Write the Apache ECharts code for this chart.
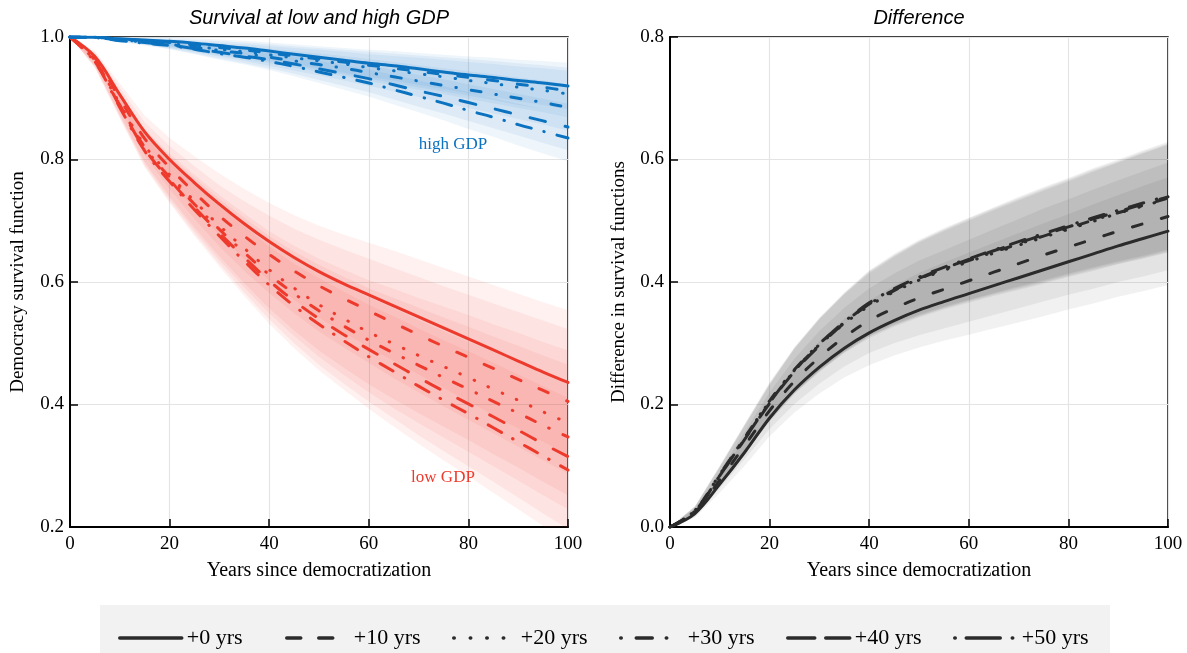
<!DOCTYPE html>
<html><head><meta charset="utf-8">
<script src="https://cdn.jsdelivr.net/npm/echarts@6/dist/echarts.min.js"></script>
<style>html,body{margin:0;padding:0;background:#fff}#c{width:1187px;height:653px}</style>
</head><body><div id="c"></div>
<script>
// ---------- data ----------
const years = [0,5,10,15,20,25,30,35,40,45,50,55,60,65,70,75,80,85,90,95,100];
const legendNames = ['+0 yrs','+10 yrs','+20 yrs','+30 yrs','+40 yrs','+50 yrs'];

// survival at low GDP (red)
const low0  = [1,0.968,0.906,0.845,0.800,0.762,0.727,0.695,0.666,0.640,0.617,0.597,0.579,0.561,0.543,0.525,0.507,0.489,0.471,0.453,0.436];
const low10 = [1,0.966,0.899,0.834,0.787,0.746,0.708,0.675,0.645,0.618,0.594,0.573,0.553,0.533,0.514,0.495,0.477,0.459,0.441,0.423,0.405];
const low20 = [1,0.962,0.891,0.823,0.775,0.732,0.692,0.655,0.620,0.590,0.563,0.540,0.518,0.499,0.480,0.462,0.444,0.425,0.407,0.388,0.370];
const low30 = [1,0.961,0.889,0.820,0.771,0.727,0.686,0.648,0.612,0.581,0.553,0.528,0.505,0.484,0.464,0.444,0.425,0.405,0.386,0.366,0.347];
const low40 = [1,0.960,0.887,0.817,0.767,0.722,0.680,0.640,0.602,0.569,0.540,0.514,0.490,0.467,0.444,0.422,0.401,0.380,0.358,0.336,0.315];
const low50 = [1,0.959,0.885,0.814,0.764,0.718,0.675,0.634,0.595,0.561,0.531,0.504,0.478,0.454,0.430,0.407,0.385,0.362,0.339,0.316,0.293];

// survival at high GDP (blue)
const high0  = [1,0.9995,0.997,0.995,0.993,0.990,0.986,0.982,0.977,0.972,0.967,0.962,0.957,0.953,0.948,0.943,0.938,0.934,0.929,0.925,0.920];
const high10 = [1,0.9995,0.997,0.994,0.991,0.987,0.983,0.979,0.974,0.969,0.964,0.959,0.954,0.949,0.944,0.939,0.934,0.929,0.923,0.918,0.912];
const high20 = [1,0.9995,0.996,0.992,0.989,0.985,0.980,0.976,0.971,0.966,0.961,0.956,0.950,0.945,0.940,0.935,0.929,0.924,0.918,0.913,0.907];
const high30 = [1,0.9995,0.995,0.992,0.988,0.983,0.978,0.973,0.967,0.961,0.955,0.949,0.942,0.935,0.928,0.921,0.914,0.907,0.900,0.893,0.885];
const high40 = [1,0.999,0.995,0.991,0.987,0.981,0.975,0.969,0.963,0.956,0.948,0.940,0.932,0.922,0.912,0.903,0.893,0.883,0.873,0.863,0.853];
const high50 = [1,0.999,0.994,0.990,0.986,0.980,0.973,0.967,0.960,0.952,0.943,0.934,0.925,0.914,0.903,0.892,0.880,0.869,0.857,0.846,0.835];

// difference in survival functions (black)
const diff0  = [0,0.022,0.070,0.122,0.178,0.224,0.261,0.292,0.317,0.337,0.354,0.368,0.381,0.394,0.407,0.420,0.433,0.446,0.459,0.471,0.483];
const diff10 = [0,0.024,0.077,0.133,0.190,0.238,0.277,0.310,0.337,0.357,0.374,0.388,0.402,0.416,0.430,0.444,0.457,0.470,0.483,0.495,0.507];
const diff20 = [0,0.027,0.086,0.146,0.205,0.256,0.297,0.332,0.361,0.384,0.403,0.419,0.433,0.447,0.460,0.473,0.486,0.499,0.512,0.524,0.536];
const diff30 = [0,0.027,0.086,0.146,0.206,0.257,0.299,0.334,0.364,0.386,0.405,0.421,0.435,0.449,0.462,0.475,0.488,0.501,0.513,0.525,0.537];
const diff40 = [0,0.026,0.084,0.143,0.202,0.254,0.296,0.333,0.364,0.387,0.406,0.422,0.437,0.451,0.464,0.477,0.490,0.503,0.515,0.527,0.539];
const diff50 = [0,0.026,0.084,0.144,0.203,0.255,0.298,0.335,0.366,0.389,0.408,0.424,0.438,0.452,0.466,0.479,0.492,0.505,0.517,0.529,0.541];

// half-widths of the uncertainty bands
const lowBand  = [0,0.009,0.018,0.027,0.035,0.043,0.050,0.057,0.063,0.069,0.075,0.080,0.085,0.090,0.094,0.098,0.102,0.106,0.110,0.114,0.118];
const highBand = [0,0.001,0.002,0.004,0.006,0.008,0.010,0.012,0.014,0.016,0.018,0.020,0.022,0.024,0.026,0.028,0.030,0.032,0.034,0.036,0.038];
const diffBand = [0,0.007,0.014,0.022,0.030,0.037,0.043,0.048,0.053,0.057,0.061,0.064,0.067,0.070,0.073,0.076,0.078,0.081,0.083,0.086,0.088];

// ---------- styling ----------
const RED = '#ee3a2c', BLUE = '#0b72c0', DARK = '#2b2b2b';
const SERIF = '"Liberation Serif","Times New Roman",serif';
const SANS = '"Liberation Sans",Arial,sans-serif';
const dashTypes = ['solid', [10,20], [0.5,15], [10,15,0.5,15], [16,20], [15,13,0.5,13]];
const legendDash = ['solid', [14,18], [0.5,16], [0.5,15,16,14,0.5,40], [27,11], [0.5,11,34,12,0.5,40]];

const lowSets  = [low0, low10, low20, low30, low40, low50];
const highSets = [high0, high10, high20, high30, high40, high50];
const diffSets = [diff0, diff10, diff20, diff30, diff40, diff50];

const series = [];
function addBand(mid, hw, idx, fill) {
  series.push({
    type: 'custom', xAxisIndex: idx, yAxisIndex: idx, silent: true, clip: true, z: 1,
    data: [[50, 0.5]],
    renderItem: (params, api) => {
      const cs = params.coordSys;
      const up = years.map((y, i) => api.coord([y, mid[i] + hw[i]]));
      const lo = years.map((y, i) => api.coord([y, mid[i] - hw[i]])).reverse();
      return {
        type: 'group',
        clipPath: { type: 'rect', shape: { x: cs.x, y: cs.y, width: cs.width, height: cs.height } },
        children: [{ type: 'polygon', shape: { points: up.concat(lo) }, style: { fill } }]
      };
    }
  });
}
function addLine(name, mid, idx, color, k) {
  series.push({
    name, type: 'line', xAxisIndex: idx, yAxisIndex: idx, smooth: 0.35,
    symbol: 'none', silent: true,
    lineStyle: { color, width: 3, type: dashTypes[k], cap: 'round', join: 'round' },
    itemStyle: { color },
    data: years.map((y, i) => [y, mid[i]]), z: 3
  });
}

for (let k = 0; k < 6; k++) {
  addBand(lowSets[k], lowBand, 0, 'rgba(238,58,44,0.07)');
  addBand(highSets[k], highBand, 0, 'rgba(11,114,192,0.07)');
  addBand(diffSets[k], diffBand, 1, 'rgba(0,0,0,0.055)');
}
for (let k = 0; k < 6; k++) addLine(legendNames[k], diffSets[k], 1, DARK, k);
for (let k = 0; k < 6; k++) addLine('low ' + legendNames[k], lowSets[k], 0, RED, k);
for (let k = 0; k < 6; k++) addLine('high ' + legendNames[k], highSets[k], 0, BLUE, k);

const axisFont = { fontFamily: SERIF, fontSize: 19, color: '#000' };
function xAx(idx) {
  return {
    type: 'value', gridIndex: idx, min: 0, max: 100, interval: 20,
    name: 'Years since democratization', nameLocation: 'middle', nameGap: 34,
    nameTextStyle: { fontFamily: SERIF, fontSize: 20, color: '#000' },
    axisLine: { show: true, onZero: false, lineStyle: { color: '#000', width: 2 } },
    axisTick: { show: true, inside: true, length: 8, lineStyle: { color: '#000', width: 1.5 } },
    axisLabel: Object.assign({ margin: 8 }, axisFont),
    splitLine: { show: true, lineStyle: { color: '#e4e4e4', width: 1.2 } }
  };
}
function yAx(idx, min, max, name, gap) {
  return {
    type: 'value', gridIndex: idx, min, max, interval: 0.2,
    name, nameLocation: 'middle', nameGap: gap, nameTextStyle: axisFont,
    axisLine: { show: true, onZero: false, lineStyle: { color: '#000', width: 2 } },
    axisTick: { show: true, inside: true, length: 8, lineStyle: { color: '#000', width: 1.5 } },
    axisLabel: Object.assign({ margin: 6, formatter: v => v.toFixed(1) }, axisFont),
    splitLine: { show: true, lineStyle: { color: '#e4e4e4', width: 1.2 } }
  };
}

const legends = legendNames.map((n, i) => ({
  data: [n], left: 118 + 167 * i, top: 627, itemWidth: 62, itemHeight: 16, padding: 0,
  selectedMode: false, itemStyle: { opacity: 0 },
  lineStyle: { width: 3.5, cap: 'round', type: legendDash[i] },
  textStyle: { fontFamily: SERIF, fontSize: 22, color: '#000' }, z: 10
}));

const chart = echarts.init(document.getElementById('c'), null, { renderer: 'canvas' });
chart.setOption({
  animation: false,
  backgroundColor: '#fff',
  grid: [
    { left: 70, right: 619, top: 37, bottom: 126, show: true, borderColor: '#000', borderWidth: 1.5 },
    { left: 670, right: 19, top: 37, bottom: 126, show: true, borderColor: '#000', borderWidth: 1.5 }
  ],
  xAxis: [xAx(0), xAx(1)],
  yAxis: [yAx(0, 0.2, 1.0, 'Democracy survival function', 42), yAx(1, 0, 0.8, 'Difference in survival functions', 41)],
  legend: legends,
  graphic: [
    { type: 'rect', left: 100, top: 605, shape: { width: 1010, height: 48 }, style: { fill: '#f2f2f2' }, z: 0 },
    { type: 'text', x: 319, y: 8, style: { text: 'Survival at low and high GDP', font: 'italic 20px ' + SANS, fill: '#000', textAlign: 'center' } },
    { type: 'text', x: 919, y: 8, style: { text: 'Difference', font: 'italic 20px ' + SANS, fill: '#000', textAlign: 'center' } },
    { type: 'text', x: 453, y: 136, style: { text: 'high GDP', font: '17px ' + SERIF, fill: BLUE, textAlign: 'center' }, z: 20 },
    { type: 'text', x: 443, y: 469, style: { text: 'low GDP', font: '17px ' + SERIF, fill: RED, textAlign: 'center' }, z: 20 }
  ],
  series
});
</script></body></html>
